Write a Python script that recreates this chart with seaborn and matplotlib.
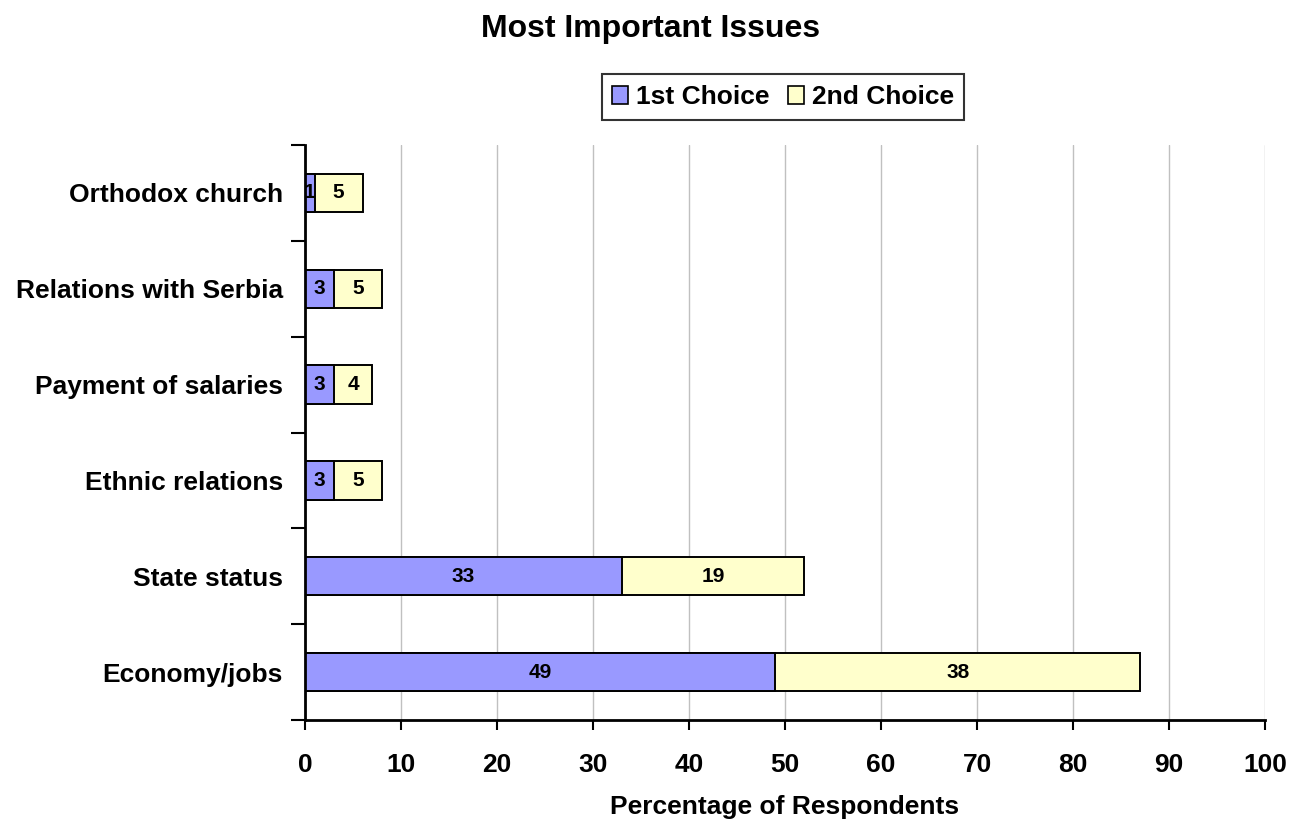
import matplotlib
matplotlib.use("Agg")
import matplotlib.pyplot as plt
from matplotlib.patches import Patch
import seaborn as sns
import pandas as pd

# Survey results: share of respondents naming each issue
issues = ["Orthodox church", "Relations with Serbia", "Payment of salaries",
          "Ethnic relations", "State status", "Economy/jobs"]
first_choice = [1, 3, 3, 3, 33, 49]
second_choice = [5, 5, 4, 5, 19, 38]
x_ticks = [0, 10, 20, 30, 40, 50, 60, 70, 80, 90, 100]

color_first = "#9999FF"
color_second = "#FFFFCC"

sns.set_style("white")
plt.rcParams["font.family"] = ["Liberation Sans", "DejaVu Sans"]
plt.rcParams["font.weight"] = "bold"
for key in ["text.color", "axes.labelcolor", "xtick.color", "ytick.color"]:
    plt.rcParams[key] = "black"

df = pd.DataFrame({
    "issue": issues,
    "first": first_choice,
    "second": second_choice,
})
df["total"] = df["first"] + df["second"]

fig = plt.figure(figsize=(13.05, 8.27), dpi=100)
ax = fig.add_axes([305 / 1305, 1 - 720 / 827, 960 / 1305, 575 / 827])

# Stacked bars: full length in the 2nd-choice colour, 1st choice on top
sns.barplot(data=df, y="issue", x="total", orient="h", color=color_second,
            saturation=1, width=0.4, edgecolor="black", linewidth=1.4, ax=ax)
sns.barplot(data=df, y="issue", x="first", orient="h", color=color_first,
            saturation=1, width=0.4, edgecolor="black", linewidth=1.4, ax=ax)

# Segment labels
for i, (a, b) in enumerate(zip(first_choice, second_choice)):
    ax.text(a / 2, i, str(a), ha="center", va="center", fontsize=15,
            fontweight="bold", color="black")
    ax.text(a + b / 2, i, str(b), ha="center", va="center", fontsize=15,
            fontweight="bold", color="black")

ax.set_xlim(0, 100)
ax.set_ylim(len(issues) - 0.5, -0.5)
ax.set_xticks(x_ticks)
ax.set_xticklabels([str(t) for t in x_ticks], fontsize=19, fontweight="bold")
ax.set_yticks(range(len(issues)))
ax.set_yticklabels(issues, fontsize=19, fontweight="bold")
ax.set_yticks([i - 0.5 for i in range(len(issues) + 1)], minor=True)
ax.tick_params(axis="y", which="major", length=0, pad=16)
ax.tick_params(axis="y", which="minor", length=10, width=1.5, color="black",
               direction="out", left=True)
ax.tick_params(axis="x", which="major", length=7, width=1.5, color="black",
               direction="out", bottom=True, pad=17)

ax.set_xlabel("Percentage of Respondents", fontsize=19, fontweight="bold",
              labelpad=13)
ax.set_ylabel("")

ax.grid(axis="x", color="#C0C0C0", linewidth=1)
ax.grid(axis="y", visible=False)
ax.set_axisbelow(True)
for side in ["top", "right"]:
    ax.spines[side].set_visible(False)
for side in ["left", "bottom"]:
    ax.spines[side].set_color("black")
    ax.spines[side].set_linewidth(2)

fig.suptitle("Most Important Issues", x=651 / 1305, y=1 - 29 / 827,
             va="center", fontsize=23, fontweight="bold")

handles = [Patch(facecolor=color_first, edgecolor="black", linewidth=1.2),
           Patch(facecolor=color_second, edgecolor="black", linewidth=1.2)]
leg = fig.legend(handles, ["1st Choice", "2nd Choice"], ncol=2,
                 loc="center", bbox_to_anchor=(783 / 1305, 1 - 97 / 827),
                 frameon=True, fancybox=False, edgecolor="black",
                 prop={"size": 19, "weight": "bold"},
                 handlelength=0.6, handleheight=0.65, handletextpad=0.3,
                 columnspacing=0.7, borderpad=0.4)
leg.get_frame().set_linewidth(1.5)

fig.savefig("out.png", dpi=100)
